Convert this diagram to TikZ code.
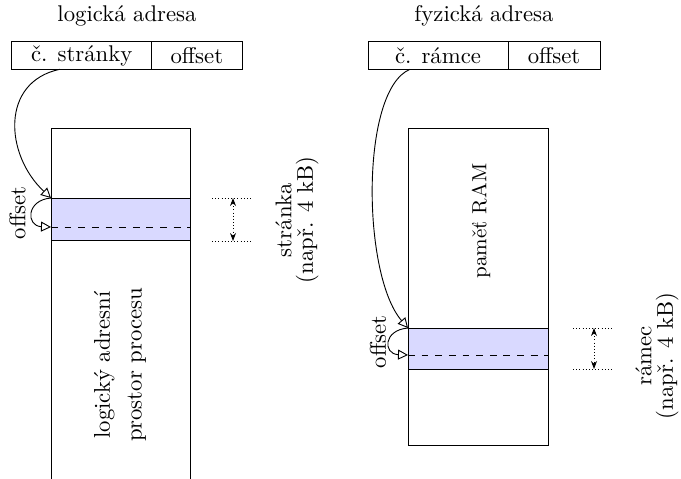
\documentclass[tikz,border=0pt]{standalone}
\usetikzlibrary{arrows.meta}
\tikzset{
  cell/.style={draw, inner sep=0pt, outer sep=0pt, minimum height=27.6*0.44pt},
  band/.style={draw, fill=blue!15, inner sep=0pt, outer sep=0pt, anchor=north west},
  ptr/.style={-{Triangle[open,length=4.4pt,width=4.4pt]}},
  dimline/.style={densely dotted},
  dimarrow/.style={densely dotted, {Stealth[length=3.5pt,width=2.6pt]}-{Stealth[length=3.5pt,width=2.6pt]}},
}
\begin{document}
\begin{tikzpicture}[x=0.44pt,y=-0.44pt]
\pgfmathsetmacro{\kp}{0.44}
\useasboundingbox (0,0) rectangle (681,478);
%
% logicka adresa
\node (logtitle) at (127,16) {logická adresa};
\node[cell, minimum width={140*\kp pt}] (cislo) at (81.7,55.5) {č. stránky};
\node[cell, minimum width={90.3*\kp pt}, anchor=west] (offlog) at (cislo.east) {offset};
%
\draw (51,480) -- (51,128) -- (190,128) -- (190,480);
\node[band, minimum width={139*\kp pt}, minimum height={42*\kp pt}] (stranka) at (51,198) {};
\coordinate (offs) at (51,227);
\draw[dashed] (offs) -- (offs -| stranka.east);
\node[rotate=90, align=center] (logprostor) at (120,365) {logický adresní\\[2pt]prostor procesu};
%
\draw[ptr] ([xshift=48*\kp pt]cislo.south west) .. controls (0,82) and (5,155) .. (stranka.north west);
\draw[ptr] (stranka.north west) .. controls (26,200) and (26,226) .. (offs);
\node[rotate=90] (offlbl) at (17.5,213) {offset};
%
\coordinate (dtop) at (233,198);
\coordinate (dbot) at (233,241);
\draw[dimline] (212,198) --++ (40,0);
\draw[dimline] (212,241) --++ (40,0);
\draw[dimarrow] (dtop) -- (dbot);
\node[rotate=90, align=center] (stranklbl) at (297,220) {stránka\\[-2.5pt](např. 4 kB)};
%
% fyzicka adresa
\node (fyztitle) at (484,16) {fyzická adresa};
\node[cell, minimum width={140*\kp pt}] (ramnum) at (438,55.5) {č. rámce};
\node[cell, minimum width={92*\kp pt}, anchor=west] (offfyz) at (ramnum.east) {offset};
%
\draw (408,128) rectangle (548,445);
\node[band, minimum width={140*\kp pt}, minimum height={41*\kp pt}] (ramec) at (408,328) {};
\coordinate (offr) at (408,355);
\draw[dashed] (offr) -- (offr -| ramec.east);
\node[rotate=90, font=\small] (ram) at (481,221) {paměť RAM};
%
\draw[ptr] ([xshift=42*\kp pt]ramnum.south west) .. controls (360,90) and (362,275) .. (ramec.north west);
\draw[ptr] (ramec.north west) .. controls (383,330) and (383,354) .. (offr);
\node[rotate=90] (offrlbl) at (378,342) {offset};
%
\coordinate (rtop) at (594,328);
\coordinate (rbot) at (594,369);
\draw[dimline] (573,328) --++ (40,0);
\draw[dimline] (573,369) --++ (40,0);
\draw[dimarrow] (rtop) -- (rbot);
\node[rotate=90, align=center] (ramlbl) at (657,356) {rámec\\[-2.5pt](např. 4 kB)};
\end{tikzpicture}
\end{document}
